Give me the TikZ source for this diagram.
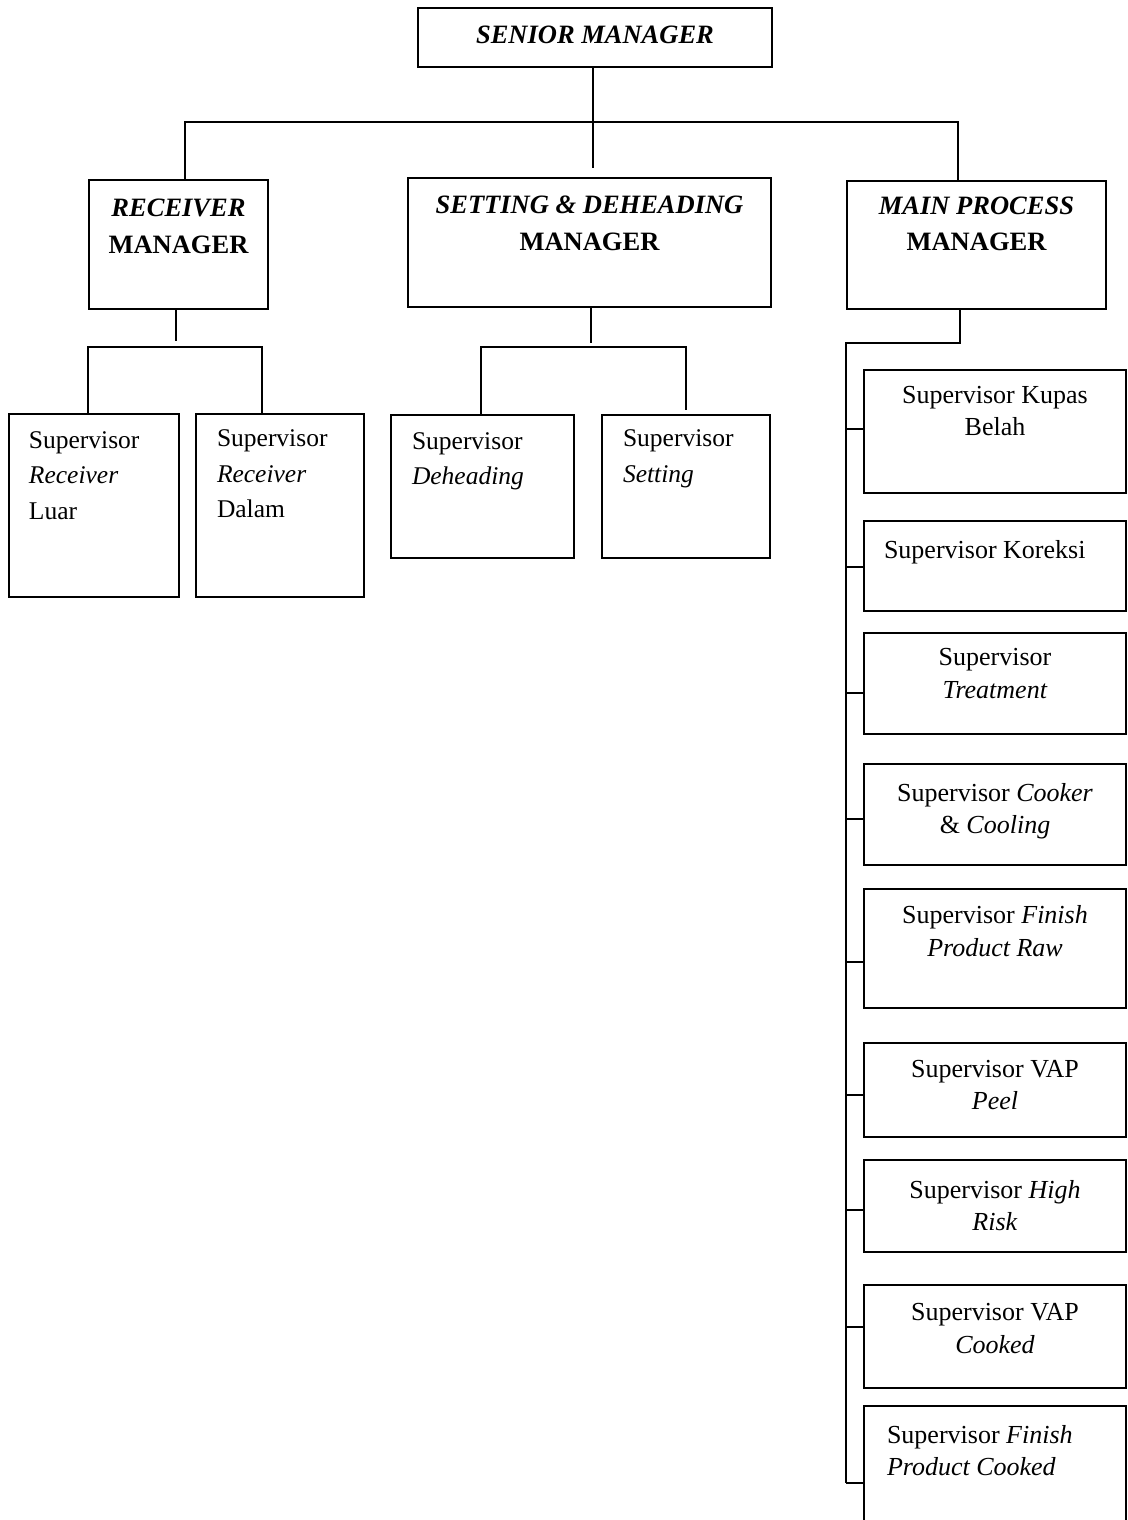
\documentclass[tikz,border=0pt]{standalone}
\usepackage{fontspec}
\setmainfont{Liberation Serif}
\usetikzlibrary{calc,positioning}

\tikzset{
  unit/.style={draw,line width=1.6pt,inner sep=0pt,outer sep=0pt,anchor=north west},
  link/.style={line width=1.3pt}
}
% box of fixed size, text hanging from the top
\newcommand{\orgcell}[4]{\parbox[t][#2][t]{#1}{\vspace*{#3}#4}}
\newcommand{\mgrfont}{\fontsize{26.5}{36.5}\selectfont\bfseries\centering}
\newcommand{\lsupfont}{\fontsize{25.5}{35.3}\selectfont}
\newcommand{\rsupfont}{\fontsize{26}{32.5}\selectfont}
\newcommand{\indentleft}[1]{\raggedright\leftskip=#1\relax}

\begin{document}
\begin{tikzpicture}[x=1pt,y=-1pt]
\useasboundingbox (0,0) rectangle (1127,1520);
\clip (0,0) rectangle (1127,1520);

% managers
\node[unit] (sm) at (418,8) {\orgcell{354pt}{59pt}{18pt}{\mgrfont\textit{SENIOR MANAGER}}};
\node[unit] (rm) at (89,180) {\orgcell{179pt}{129pt}{19.3pt}{\mgrfont\textit{RECEIVER}\\MANAGER}};
\node[unit] (sd) at (408,178) {\orgcell{363pt}{129pt}{18pt}{\mgrfont\textit{SETTING \& DEHEADING}\\MANAGER}};
\node[unit] (mp) at (847,181) {\orgcell{259pt}{128pt}{15.7pt}{\mgrfont\textit{MAIN PROCESS}\\MANAGER}};

% supervisors, left
\node[unit] (rl) at (9,414) {\orgcell{170pt}{183pt}{17.7pt}{\lsupfont\indentleft{20pt}Supervisor\\\textit{Receiver}\\Luar}};
\node[unit] (rd) at (196,414) {\orgcell{168pt}{183pt}{16pt}{\lsupfont\indentleft{21pt}Supervisor\\\textit{Receiver}\\Dalam}};
\node[unit] (dh) at (391,415) {\orgcell{183pt}{143pt}{17.7pt}{\lsupfont\indentleft{21pt}Supervisor\\\textit{Deheading}}};
\node[unit] (st) at (602,415) {\orgcell{168pt}{143pt}{15pt}{\lsupfont\indentleft{21pt}Supervisor\\\textit{Setting}}};

% supervisors, main process
\node[unit] (kb) at (864,370) {\orgcell{262pt}{123pt}{16pt}{\rsupfont\centering Supervisor Kupas\\Belah}};
\node[unit] (ko) at (864,521) {\orgcell{262pt}{90pt}{19pt}{\rsupfont\indentleft{20pt}Supervisor Koreksi}};
\node[unit] (tr) at (864,633) {\orgcell{262pt}{101pt}{15.3pt}{\rsupfont\centering Supervisor\\\textit{Treatment}}};
\node[unit] (ck) at (864,764) {\orgcell{262pt}{101pt}{19.3pt}{\rsupfont\centering Supervisor \textit{Cooker}\\\& \textit{Cooling}}};
\node[unit] (fr) at (864,889) {\orgcell{262pt}{119pt}{16.7pt}{\rsupfont\centering Supervisor \textit{Finish}\\\textit{Product Raw}}};
\node[unit] (vp) at (864,1043) {\orgcell{262pt}{94pt}{17pt}{\rsupfont\centering Supervisor VAP\\\textit{Peel}}};
\node[unit] (hr) at (864,1160) {\orgcell{262pt}{92pt}{20pt}{\rsupfont\centering Supervisor \textit{High}\\\textit{Risk}}};
\node[unit] (vc) at (864,1285) {\orgcell{262pt}{103pt}{18.3pt}{\rsupfont\centering Supervisor VAP\\\textit{Cooked}}};
\node[unit] (fc) at (864,1406) {\orgcell{262pt}{160pt}{19pt}{\rsupfont\indentleft{23pt}Supervisor \textit{Finish}\\\textit{Product Cooked}}};

% top level
\coordinate (j0) at (593,122);
\coordinate (jL) at (185,122);
\coordinate (jR) at (958,122);
\draw[link] (sm.south -| j0) -- (j0);
\draw[link] (rm.north -| jL) -- (jL) -- (jR) -- (mp.north -| jR);
\draw[link,shorten >=10pt] (j0) -- (j0 |- sd.north);

% receiver
\coordinate (k1) at (176,341);
\coordinate (a1) at (88,347);
\coordinate (a2) at (262,347);
\draw[link] (rm.south -| k1) -- (k1);
\draw[link] (rl.north -| a1) -- (a1) -- (a2) -- (rd.north -| a2);

% setting & deheading
\coordinate (k2) at (591,343);
\coordinate (b1) at (481,347);
\coordinate (b2) at (686,347);
\draw[link] (sd.south -| k2) -- (k2);
\draw[link,shorten >=5pt] (dh.north -| b1) -- (b1) -- (b2) -- (st.north -| b2);

% main process
\coordinate (m1) at (960,343);
\coordinate (s0) at (846,343);
\coordinate (s1) at (846,1483);
\draw[link] (mp.south -| m1) -- (m1) -- (s0) -- (s1);
\foreach \n/\d in {kb/2.5,ko/-1,tr/-9.5,ck/-4.5,fr/-13.5,vp/-5,hr/-4,vc/9.5,fc/3}
  \draw[link] ([yshift=\d]\n.west) -- ++(-18,0);
\end{tikzpicture}
\end{document}
